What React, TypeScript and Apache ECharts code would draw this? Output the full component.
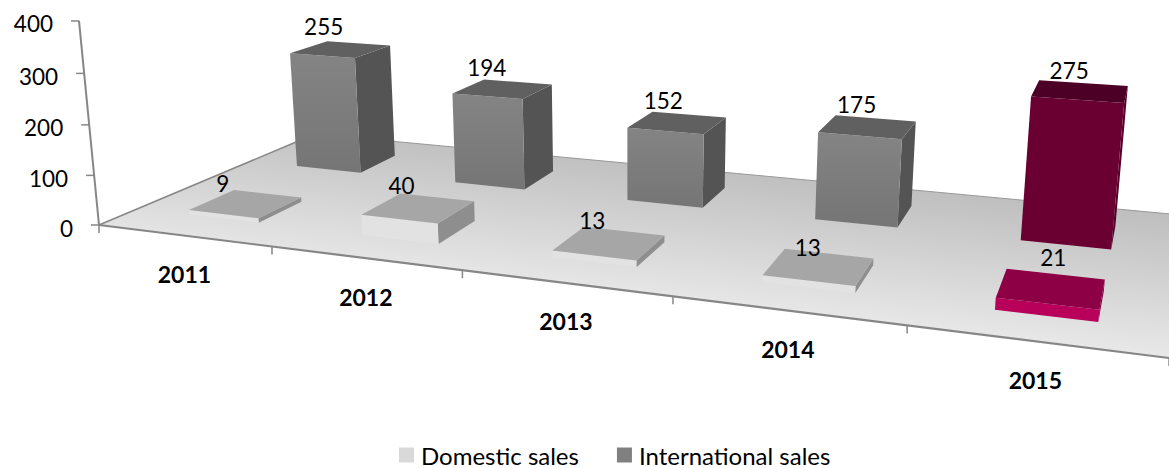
import React, { useEffect, useRef } from "react";
import * as echarts from "echarts";

// ---- data ----
const categories = ["2011", "2012", "2013", "2014", "2015"];
const domesticSales = [9, 40, 13, 13, 21];
const internationalSales = [255, 194, 152, 175, 275];
const valueTicks = [0, 100, 200, 300, 400];
const seriesNames = ["Domestic sales", "International sales"];
const highlightedCategory = "2015";

// ---- perspective camera, fitted to the reference ----
const GRID_W = 1000;
const GRID_H = 400;
const CAM = {
  a: 802.8, b: 293.0, p: -22.85, c: 99,
  d: 51.16, e: -58.2, q: -204.8, f: 225,
  g: -0.2286, h: 0.2446, r: -0.0362,
};
function project(u: number, v: number, z: number): [number, number] {
  const w = 1 + CAM.g * u + CAM.h * v + CAM.r * z;
  return [
    (CAM.a * u + CAM.b * v + CAM.p * z + CAM.c) / w,
    (CAM.d * u + CAM.e * v + CAM.q * z + CAM.f) / w,
  ];
}
const FONT = "Lato";
const TEXT_COLOR = "#000";
const AXIS_COLOR = "#868686";
const HALF_BAR_U = 0.0412;
const HALF_BAR_V = 0.098;
const BAR_SHIFT_U = 0.0035;

type Skin = { front: any; top: string; side: string };
const skin = (front: any, top: string, side: string): Skin => ({ front, top, side });
const vgrad = (a: string, b: string) =>
  new echarts.graphic.LinearGradient(0, 0, 0, 1, [
    { offset: 0, color: a },
    { offset: 1, color: b },
  ]);
const DOMESTIC = skin("#E2E2E2", "#A6A6A6", "#8E8E8E");
const DOMESTIC_HI = skin("#B8005A", "#8E0046", "#7A003C");
const INTL = skin(vgrad("#848484", "#757575"), "#606060", "#545454");
const INTL_HI = skin("#6A0032", "#4C0026", "#560029");

// label offsets from the centre of a bar's top face
const labelOffsets: Record<string, [number, number][]> = {
  domestic: [[-23, -20], [-17, -22], [-17, -22], [-11, -19], [2, -31]],
  international: [[-17, -23], [-16, -21], [-14, -22], [-11, -22], [-11, -21]],
};

function barRenderer(depth: number, normal: Skin, hi: Skin, offsets: [number, number][]) {
  return (params: any, api: any) => {
    const idx = api.value(0);
    const val = api.value(1);
    const base = api.coord([idx, 0]);
    const head = api.coord([idx, val]);
    const uc = base[0] / GRID_W + BAR_SHIFT_U;
    const z = (base[1] - head[1]) / GRID_H;
    const u0 = uc - HALF_BAR_U, u1 = uc + HALF_BAR_U;
    const v0 = depth - HALF_BAR_V, v1 = depth + HALF_BAR_V;
    const s = categories[idx] === highlightedCategory ? hi : normal;
    const face = (pts: [number, number, number][], fill: any) => ({
      type: "polygon",
      shape: { points: pts.map((p) => project(p[0], p[1], p[2])) },
      style: { fill, stroke: null },
    });
    const c = project(uc, depth, z);
    const off = offsets[idx];
    return {
      type: "group",
      children: [
        face([[u1, v0, 0], [u1, v1, 0], [u1, v1, z], [u1, v0, z]], s.side),
        face([[u0, v0, 0], [u1, v0, 0], [u1, v0, z], [u0, v0, z]], s.front),
        face([[u0, v0, z], [u1, v0, z], [u1, v1, z], [u0, v1, z]], s.top),
        {
          type: "text",
          style: {
            text: String(val),
            x: c[0] + off[0],
            y: c[1] + off[1],
            fill: TEXT_COLOR,
            font: `22.5px ${FONT}`,
            align: "center",
            verticalAlign: "middle",
          },
        },
      ],
    };
  };
}

function frameRenderer(params: any, api: any) {
  const line = (a: [number, number], b: [number, number], w: number, color = AXIS_COLOR) => ({
    type: "line",
    shape: { x1: a[0], y1: a[1], x2: b[0], y2: b[1] },
    style: { stroke: color, lineWidth: w },
  });
  const kids: any[] = [];
  const A = project(0, 0, 0), B = project(1, 0, 0), C = project(1, 1, 0), D = project(0, 1, 0);
  kids.push({
    type: "polygon",
    shape: { points: [A, B, C, D] },
    style: {
      fill: new echarts.graphic.LinearGradient(0.8, 0.254, 0.536, 0.756, [
        { offset: 0, color: "#BEBEBE" },
        { offset: 1, color: "#E8E8E8" },
      ]),
    },
  });
  kids.push(line(D, C, 1, "#999999"));
  kids.push(line(A, D, 1.5));
  kids.push(line(A, B, 2.2));
  kids.push(line(A, project(0, 0, 1), 2));
  valueTicks.forEach((t) => {
    const z = (api.coord([0, 0])[1] - api.coord([0, t])[1]) / GRID_H;
    const p = project(0, 0, z);
    kids.push(line([p[0] - 8, p[1]], p, 1.5));
    kids.push({
      type: "text",
      style: {
        text: String(t),
        x: p[0] - 26,
        y: p[1] + 3,
        fill: TEXT_COLOR,
        font: `22.5px ${FONT}`,
        align: "right",
        verticalAlign: "middle",
      },
    });
  });
  categories.forEach((cat, i) => {
    const px = api.coord([i, 0])[0];
    const half = GRID_W / categories.length / 2;
    const edgeL = project((px - half) / GRID_W, 0, 0);
    const edgeR = project((px + half) / GRID_W, 0, 0);
    if (i === 0) kids.push(line(edgeL, [edgeL[0], edgeL[1] + 8], 1.5));
    kids.push(line(edgeR, [edgeR[0], edgeR[1] + 8], 1.5));
    const m = project(px / GRID_W, 0, 0);
    kids.push({
      type: "text",
      style: {
        text: cat,
        x: m[0] + 1,
        y: m[1] + 38.5,
        fill: TEXT_COLOR,
        font: `bold 23px ${FONT}`,
        align: "center",
        verticalAlign: "middle",
      },
    });
  });
  return { type: "group", children: kids };
}

export default function App() {
  const ref = useRef<HTMLDivElement>(null);
  useEffect(() => {
    const chart = echarts.init(ref.current!, undefined, { renderer: "svg" });
    chart.setOption({
      animation: false,
      backgroundColor: "#fff",
      grid: { left: 0, top: 0, width: GRID_W, height: GRID_H },
      xAxis: { type: "category", data: categories, show: false },
      yAxis: { type: "value", min: 0, max: 400, interval: 100, show: false },
      legend: {
        data: seriesNames,
        left: 394,
        top: 438,
        icon: "rect",
        itemWidth: 15,
        itemHeight: 15,
        itemGap: 38,
        textStyle: { fontFamily: FONT, fontSize: 24, color: TEXT_COLOR, padding: [0, 0, 0, 2] },
      },
      series: [
        {
          type: "custom",
          name: "frame",
          silent: true,
          z: 1,
          renderItem: frameRenderer,
          data: [[0, 0]],
        },
        {
          type: "custom",
          name: seriesNames[1],
          silent: true,
          z: 2,
          itemStyle: { color: "#808080" },
          renderItem: barRenderer(0.75, INTL, INTL_HI, labelOffsets.international),
          data: internationalSales.map((v, i) => [i, v]),
        },
        {
          type: "custom",
          name: seriesNames[0],
          silent: true,
          z: 3,
          itemStyle: { color: "#D9D9D9" },
          renderItem: barRenderer(0.25, DOMESTIC, DOMESTIC_HI, labelOffsets.domestic),
          data: domesticSales.map((v, i) => [i, v]),
        },
      ],
    });
    return () => chart.dispose();
  }, []);
  return (
    <div
      ref={ref}
      style={{ position: "fixed", left: 0, top: 0, width: 1169, height: 468 }}
    />
  );
}
